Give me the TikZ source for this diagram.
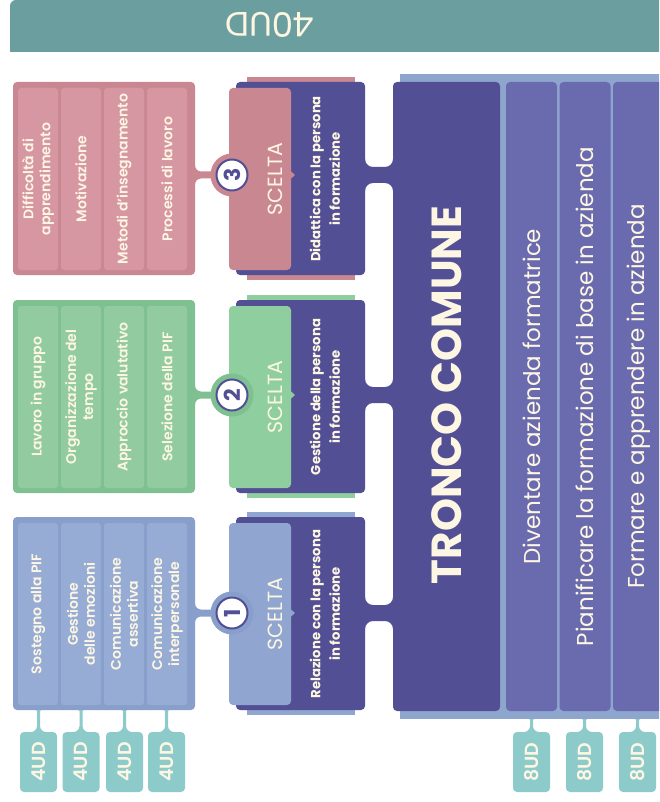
\documentclass[tikz,border=0pt]{standalone}
\usepackage{fontspec}
\setmainfont{Poppins}
\newfontfamily\popmed{Poppins Medium}
\newfontfamily\popsemi{Poppins SemiBold}
\definecolor{cream}{HTML}{FDF6E3}
\definecolor{bannerteal}{HTML}{6B9E9E}
\definecolor{tagteal}{HTML}{8DCACA}
\definecolor{dpurple}{HTML}{524F94}
\definecolor{mpurple}{HTML}{6A6AAE}
\definecolor{backblue}{HTML}{8EA6CE}
\definecolor{pinkout}{HTML}{C98791}
\definecolor{pinkcell}{HTML}{D697A2}
\definecolor{pinkscel}{HTML}{C98891}
\definecolor{greenout}{HTML}{7FC090}
\definecolor{greencell}{HTML}{93CBA0}
\definecolor{greenscel}{HTML}{8FCF9F}
\definecolor{blueout}{HTML}{889FCC}
\definecolor{bluecell}{HTML}{97ACD5}
\definecolor{bluescel}{HTML}{90A6D0}
\tikzset{
  every node/.style={inner sep=0pt, outer sep=0pt},
  blk/.style={rounded corners=4pt, minimum width=182pt, minimum height=193pt},
  cell/.style={rotate=90, rounded corners=3pt, minimum width=182pt, minimum height=40pt,
    align=center, text=cream, font=\popsemi\fontsize{14}{17}\selectfont},
  optbox/.style={fill=dpurple, rounded corners=4pt, minimum width=129pt, minimum height=193pt},
  optlabel/.style={rotate=90, align=center, text=cream, font=\bfseries\fontsize{13.2}{19.5}\selectfont},
  scelbox/.style={rounded corners=4pt, minimum width=62pt, minimum height=182pt},
  scellabel/.style={rotate=90, text=cream, font=\fontsize{20.5}{22}\selectfont},
  ring/.style={circle, minimum size=43pt},
  numc/.style={circle, fill=white, draw=dpurple, line width=2pt, minimum size=31pt, rotate=90,
    text=dpurple, font=\bfseries\fontsize{22}{22}\selectfont},
  colbox/.style={rotate=90, fill=mpurple, rounded corners=4pt, minimum width=629pt,
    minimum height=51pt, text=cream, font=\fontsize{23}{25}\selectfont},
  tagbox/.style={rotate=90, fill=tagteal, rounded corners=4pt, minimum width=60pt,
    minimum height=37pt, text=cream, font=\popsemi\fontsize{19}{20}\selectfont},
}
% bridge: #1 start, #2 length, #3 half width, #4 start fillet, #5 end fillet, #6 style
\newcommand\bridge[6]{\fill[shift={(#1)}, #6] (0,{#3+#4}) .. controls (0,{#3+0.45*#4}) and ({0.45*#4},#3) .. (#4,#3)
  -- ({#2-#5},#3) .. controls ({#2-0.45*#5},#3) and (#2,{#3+0.45*#5}) .. (#2,{#3+#5})
  -- (#2,{-#3-#5}) .. controls (#2,{-#3-0.45*#5}) and ({#2-0.45*#5},-#3) .. ({#2-#5},-#3)
  -- (#4,-#3) .. controls ({0.45*#4},-#3) and (0,{-#3-0.45*#4}) .. (0,{-#3-#4}) -- cycle;}
% option section: #1 prefix, #2 top, #3 block colour, #4 choice colour, #5 number, #6 text, #7 circle y
\newcommand\optsec[7]{%
  \fill[#4] (247,{#2-5}) rectangle (355,{#2+198});
  \node[optbox] (#1opt) at (300.5,{#2+96.5}) {};
  \node[optlabel] (#1lab) at (325,{#2+97}) {#6};
  \node[scelbox, fill=#4] (#1sc) at (260,{#2+97}) {};
  \fill[#4] (290,{#7-4.5}) -- (295,#7) -- (290,{#7+4.5}) -- cycle;
  \node[scellabel] (#1scl) at (275,{#2+97}) {SCELTA};
  \node[blk, fill=#3] (#1blk) at (104,{#2+96.5}) {};
  \coordinate (#1c) at (232,#7);
  \bridge{#1blk.east |- #1c}{20}{3.5}{6}{0}{#3}
  \node[ring, fill=#3] (#1ring) at (#1c) {};
  \node[numc] (#1num) at (#1c) {#5};
  \bridge{#1opt.east |- #1c}{28}{8}{8}{8}{dpurple}
}
% cells: #1 prefix, #2 top, #3 colour, #4-#7 texts
\newcommand\cells[7]{%
  \node[cell, fill=#3] (#1k1) at (38,{#2+97}) {#4};
  \node[cell, fill=#3] (#1k2) at (81,{#2+97}) {#5};
  \node[cell, fill=#3] (#1k3) at (124,{#2+97}) {#6};
  \node[cell, fill=#3] (#1k4) at (167,{#2+97}) {#7};
}
\begin{document}
\begin{tikzpicture}[x=1pt, y=-1pt]
\useasboundingbox (0,0) rectangle (659,802);
\clip (0,0) rectangle (659,802);
\fill[white] (0,0) rectangle (659,802);
% banner
\fill[bannerteal] (10,52) [rounded corners=6pt] -- (10,0) -- (680,0) [sharp corners] -- (680,52) -- cycle;
\node[rotate=180, text=cream, font=\fontsize{34}{36}\selectfont] (banner) at (270,25) {40UD};
% common trunk
\node[fill=backblue, anchor=north west, minimum width=270pt, minimum height=645pt] (back) at (400,74) {};
\node[fill=dpurple, rounded corners=4pt, minimum width=107pt, minimum height=629pt] (tronco) at (446.5,396.5) {};
\node[rotate=90, text=cream, font=\bfseries\fontsize{42}{44}\selectfont] (tlab) at (447,395) {TRONCO COMUNE};
\node[colbox] (m1) at (531.5,396.5) {Diventare azienda formatrice};
\node[colbox] (m2) at (585,396.5) {Pianificare la formazione di base in azienda};
\node[colbox] (m3) at (638.5,396.5) {Formare e apprendere in azienda};
% sections
\optsec{p}{82}{pinkout}{pinkscel}{3}{Didattica con la persona\\in formazione}{175}
\cells{p}{82}{pinkcell}{Difficoltà di\\apprendimento}{Motivazione}{Metodi d’insegnamento}{Processi di lavoro}
\optsec{g}{300}{greenout}{greenscel}{2}{Gestione della persona\\in formazione}{395}
\cells{g}{300}{greencell}{Lavoro in gruppo}{Organizzazione del\\tempo}{Approccio valutativo}{Selezione della PIF}
\optsec{b}{517}{blueout}{bluescel}{1}{Relazione con la persona\\in formazione}{613}
\cells{b}{517}{bluecell}{Sostegno alla PIF}{Gestione\\delle emozioni}{Comunicazione\\assertiva}{Comunicazione\\interpersonale}
% 4UD tags
\node[tagbox] (t1) at (38.5,762) {4UD};
\node[tagbox] (t2) at (81,762) {4UD};
\node[tagbox] (t3) at (124.5,762) {4UD};
\node[tagbox] (t4) at (166.5,762) {4UD};
\foreach \t in {t1,t2,t3,t4}{\bridge{bblk.south -| \t.center}{22}{1.5}{1}{6}{tagteal, rotate=-90}}
% 8UD tags
\node[tagbox] (u1) at (531.5,762) {8UD};
\node[tagbox] (u2) at (584.5,762) {8UD};
\node[tagbox] (u3) at (637.5,762) {8UD};
\foreach \t in {u1,u2,u3}{\bridge{back.south -| \t.center}{13}{1.5}{1}{6}{tagteal, rotate=-90}}
\end{tikzpicture}
\end{document}
